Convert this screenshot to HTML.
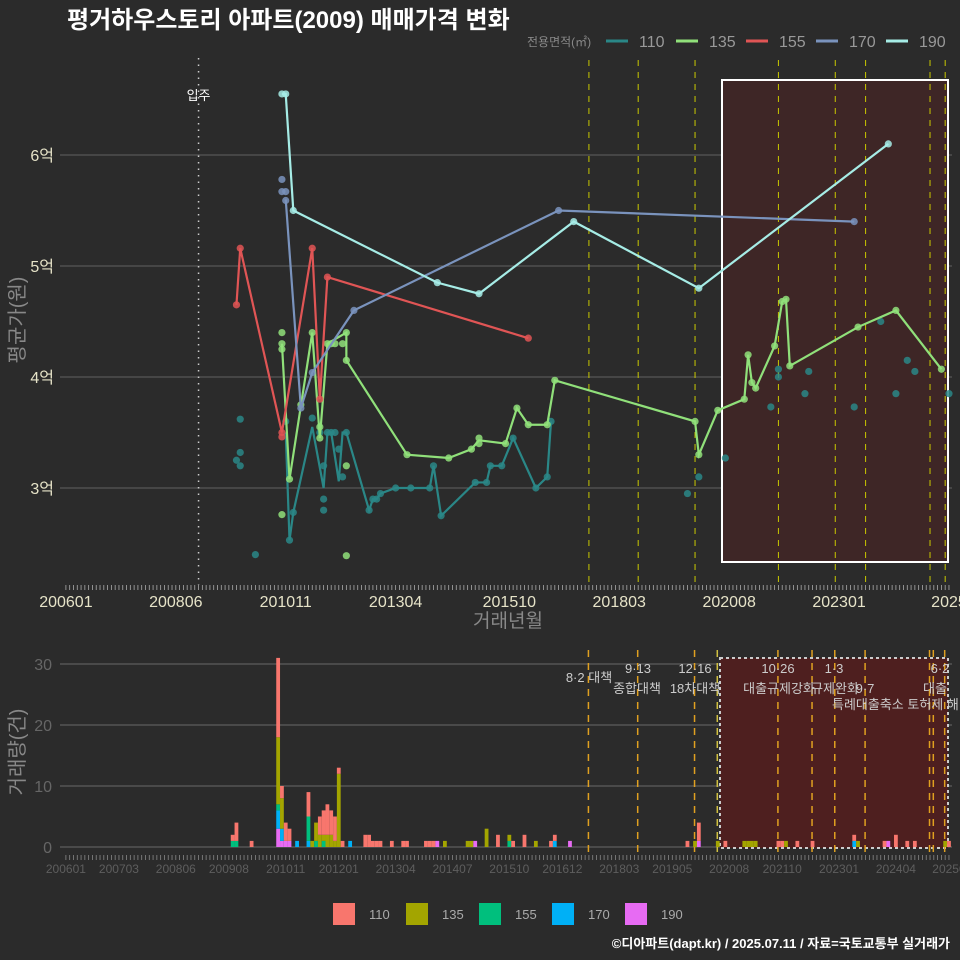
<!DOCTYPE html>
<html><head><meta charset="utf-8">
<style>
html,body{margin:0;padding:0;background:#2b2b2b;}
svg{display:block;font-family:"Liberation Sans","Noto Sans CJK KR",sans-serif;}
</style></head>
<body>
<svg id="chart" width="960" height="960" viewBox="0 0 960 960">
<rect x="0" y="0" width="960" height="960" fill="#2b2b2b"/>
<text x="67" y="28" fill="#ffffff" font-size="24" font-weight="bold">평거하우스토리 아파트(2009) 매매가격 변화</text>
<g id="legendTop"></g>
<g id="topPanel"></g>
<g id="bottomPanel"></g>
<text x="950" y="948" text-anchor="end" fill="#ffffff" font-size="13" font-weight="bold">©디아파트(dapt.kr) / 2025.07.11 / 자료=국토교통부 실거래가</text>
</svg>
<script>
// ===== data =====
const sizes = ['110','135','155','170','190'];
const lineColors = ['#2a8787','#90e07a','#e05555','#7a93bd','#a6ece6'];
const barColors = ['#f8766d','#a3a500','#00bf7d','#00b0f6','#e76bf3'];
const priceTicks = [3,4,5,6];
const priceTickLabels = ['3억','4억','5억','6억'];
const topXTicks = ['200601','200806','201011','201304','201510','201803','202008','202301','202506'];
const topXTickLabels = ['200601','200806','201011','201304','201510','201803','202008','202301','2025'];
const botXTicks = ['200601','200703','200806','200908','201011','201201','201304','201407','201510','201612','201803','201905','202008','202110','202301','202404','202506'];
const volTicks = [0,10,20,30];
const topPolicyDates = ['201707','201808','201911','202109','202212','202308','202501','202505'];
const policyDates = ['201707','201808','201911','202005','202109','202206','202212','202308','202501','202502','202505'];

const pts110Dates = ['200910','200911','200911','200911','201003','201011','201012','201101','201106','201108','201109','201109','201109','201110','201111','201112','201201','201202','201203','201209','201210','201211','201212','201304','201308','201401','201402','201404','201501','201504','201505','201508','201511','201605','201608','201609','201909','201912','202007','202107','202109','202109','202204','202205','202305','202312','202404','202407','202409','202506'];
const pts110Prices = [3.25,3.32,3.62,3.2,2.4,3.6,2.53,2.78,3.63,3.5,3.2,2.9,2.8,3.5,3.5,3.5,3.35,3.1,3.5,2.8,2.9,2.9,2.95,3.0,3.0,3.0,3.2,2.75,3.05,3.05,3.2,3.2,3.45,3.0,3.1,3.6,2.95,3.1,3.27,3.73,4.07,4.0,3.85,4.05,3.73,4.5,3.85,4.15,4.05,3.85];
const line110Dates = ['201011','201012','201101','201106','201109','201110','201111','201201','201202','201203','201209','201210','201211','201212','201304','201308','201401','201402','201404','201501','201504','201505','201508','201511','201605','201608','201609'];
const line110Prices = [3.5,2.53,2.78,3.55,3.0,3.5,3.5,3.06,3.5,3.5,2.8,2.9,2.9,2.95,3.0,3.0,3.0,3.2,2.75,3.05,3.05,3.2,3.2,3.45,3.0,3.1,3.6];

const pts135Dates = ['201010','201010','201010','201010','201012','201103','201106','201108','201108','201110','201111','201112','201202','201203','201203','201203','201203','201307','201406','201412','201502','201502','201509','201512','201603','201608','201610','201911','201912','202005','202012','202101','202102','202103','202108','202110','202111','202112','202306','202404','202504'];
const pts135Prices = [2.76,4.4,4.3,4.25,3.08,3.75,4.4,3.55,3.45,4.3,4.3,4.3,4.3,4.4,4.15,3.2,2.39,3.3,3.27,3.35,3.45,3.4,3.4,3.72,3.57,3.57,3.97,3.6,3.3,3.7,3.8,4.2,3.95,3.9,4.28,4.68,4.7,4.1,4.45,4.6,4.07];
const line135Dates = ['201010','201012','201106','201108','201110','201203','201203','201307','201406','201412','201502','201509','201512','201603','201608','201610','201911','201912','202005','202012','202101','202102','202103','202108','202110','202111','202112','202306','202404','202504'];
const line135Prices = [4.3,3.08,4.4,3.45,4.3,4.4,4.15,3.3,3.27,3.35,3.43,3.4,3.72,3.57,3.57,3.97,3.6,3.3,3.7,3.8,4.2,3.95,3.9,4.28,4.68,4.7,4.1,4.45,4.6,4.07];

const pts155Dates = ['200910','200911','201010','201010','201106','201108','201110','201603'];
const pts155Prices = [4.65,5.16,3.46,3.5,5.16,3.8,4.9,4.35];
const line155Dates = ['200910','200911','201010','201106','201108','201110','201603'];
const line155Prices = [4.65,5.16,3.5,5.16,3.8,4.9,4.35];

const pts170Dates = ['201010','201010','201011','201011','201103','201106','201205','201611','202305'];
const pts170Prices = [5.78,5.67,5.67,5.59,3.72,4.04,4.6,5.5,5.4];
const line170Dates = ['201011','201103','201106','201205','201611','202305'];
const line170Prices = [5.6,3.72,4.04,4.6,5.5,5.4];

const pts190Dates = ['201010','201011','201101','201403','201502','201703','201912','202402'];
const pts190Prices = [6.55,6.55,5.5,4.85,4.75,5.4,4.8,6.1];
const line190Dates = ['201010','201011','201101','201403','201502','201703','201912','202402'];
const line190Prices = [6.55,6.55,5.5,4.85,4.75,5.4,4.8,6.1];

const volDates = ['200909','200910','201002','201009','201010','201011','201012','201102','201105','201106','201107','201108','201109','201110','201111','201112','201201','201202','201204','201208','201209','201210','201211','201212','201303','201306','201307','201312','201401','201402','201403','201405','201411','201412','201501','201504','201507','201508','201510','201511','201602','201605','201608','201609','201610','201702','201909','201911','201912','202005','202007','202012','202101','202102','202103','202109','202110','202111','202202','202206','202305','202306','202401','202402','202404','202407','202409','202505','202506'];
const vol110 = [1,3,1,13,2,3,2,0,4,0,0,3,4,5,4,4,1,1,0,2,2,1,1,1,1,1,1,1,1,1,0,0,0,0,0,0,2,0,0,1,2,0,0,1,1,0,1,0,3,0,1,0,0,0,0,1,1,0,1,1,1,0,1,0,2,1,1,0,1];
const vol135 = [0,0,0,11,5,0,0,0,0,1,3,2,1,2,2,1,12,0,0,0,0,0,0,0,0,0,0,0,0,0,0,1,1,1,0,3,0,0,1,0,0,1,0,0,0,0,0,1,0,1,0,1,1,1,1,0,0,1,0,0,0,1,0,0,0,0,0,1,0];
const vol155 = [1,1,0,1,0,0,0,0,4,0,1,0,1,0,0,0,0,0,0,0,0,0,0,0,0,0,0,0,0,0,0,0,0,0,0,0,0,0,1,0,0,0,0,0,0,0,0,0,0,0,0,0,0,0,0,0,0,0,0,0,0,0,0,0,0,0,0,0,0];
const vol170 = [0,0,0,3,2,0,0,1,1,0,0,0,0,0,0,0,0,0,1,0,0,0,0,0,0,0,0,0,0,0,0,0,0,0,0,0,0,0,0,0,0,0,0,0,1,0,0,0,0,0,0,0,0,0,0,0,0,0,0,0,1,0,0,0,0,0,0,0,0];
const vol190 = [0,0,0,3,1,1,1,0,0,0,0,0,0,0,0,0,0,0,0,0,0,0,0,0,0,0,0,0,0,0,1,0,0,0,1,0,0,0,0,0,0,0,0,0,0,1,0,0,1,0,0,0,0,0,0,0,0,0,0,0,0,0,0,1,0,0,0,0,0];

// ===== scales =====
const NS='http://www.w3.org/2000/svg';
function mIndex(d){return (parseInt(d.slice(0,4))-2006)*12+parseInt(d.slice(4,6))-1;}
function xT(d){return 64+mIndex(d)*3.79+1.9;}
function yP(v){return 155+(6-v)*111;}
function yV(v){return 847-v*6.1;}
function mk(tag,attrs,parent){const e=document.createElementNS(NS,tag);for(const k in attrs)e.setAttribute(k,attrs[k]);parent.appendChild(e);return e;}
const topG=document.getElementById('topPanel');
const botG=document.getElementById('bottomPanel');
const lg=document.getElementById('legendTop');

// ===== top legend =====
const lgTitle=mk('text',{x:527,y:46,fill:'#888','font-size':12},lg);
lgTitle.textContent='전용면적(㎡)';


sizes.forEach((s,i)=>{const x0=606+i*70;
 const l=mk('line',{x1:x0,x2:x0+22,y1:41,y2:41,stroke:lineColors[i],'stroke-width':3},lg);
 
 
 const tx=mk('text',{x:x0+33,y:47,fill:'#999','font-size':16},lg);tx.textContent=s;
 
 
});

// ===== top panel =====
priceTicks.forEach((v,i)=>{
 const g=mk('line',{x1:60,x2:952,y1:yP(v),y2:yP(v),stroke:'#606060','stroke-width':1},topG);
 
 
 const tl=mk('text',{x:54,y:yP(v)+6,'text-anchor':'end',fill:'#e6e3c8','font-size':16},topG);tl.textContent=priceTickLabels[i];
 
 
});
const rr=mk('rect',{x:722,y:80,width:226,height:482,fill:'#3e2626',stroke:'#ffffff','stroke-width':2},topG);


topPolicyDates.forEach(d=>{
 const l=mk('line',{x1:xT(d),x2:xT(d),y1:60,y2:585,stroke:'#c8c800','stroke-width':1,'stroke-dasharray':'6,6'},topG);
 
 
});
const mv=mk('line',{x1:xT('200812'),x2:xT('200812'),y1:58,y2:585,stroke:'#cccccc','stroke-width':1.5,'stroke-dasharray':'1.5,5'},topG);


const mvt=mk('text',{x:xT('200812'),y:100,'text-anchor':'middle',fill:'#ffffff','font-size':13},topG);mvt.textContent='입주';


for(let m=0;m<=233;m++){const x=64+m*3.79+1.9;
 const tk=mk('line',{x1:x,x2:x,y1:585,y2:590,stroke:'#aaa','stroke-width':0.8},topG);
 
 
 const tk2=mk('line',{x1:x,x2:x,y1:855,y2:860,stroke:'#888','stroke-width':0.8},botG);
 
 
}
topXTicks.forEach((d,i)=>{
 const tx=mk('text',{x:xT(d),y:607,'text-anchor':'middle',fill:'#e6e3c8','font-size':16},topG);tx.textContent=topXTickLabels[i];
 
 
});
const xt=mk('text',{x:508,y:627,'text-anchor':'middle',fill:'#888','font-size':19},topG);xt.textContent='거래년월';


const yt=mk('text',{x:0,y:0,'text-anchor':'middle',fill:'#888','font-size':20,transform:'translate(24,320) rotate(-90)'},topG);yt.textContent='평균가(원)';



const lineSets=[[line110Dates,line110Prices],[line135Dates,line135Prices],[line155Dates,line155Prices],[line170Dates,line170Prices],[line190Dates,line190Prices]];
const ptSets=[[pts110Dates,pts110Prices],[pts135Dates,pts135Prices],[pts155Dates,pts155Prices],[pts170Dates,pts170Prices],[pts190Dates,pts190Prices]];
sizes.forEach((s,i)=>{
 const ld=lineSets[i][0],lp=lineSets[i][1];
 const p=mk('polyline',{points:ld.map((d,j)=>xT(d)+','+yP(lp[j])).join(' '),fill:'none',stroke:lineColors[i],'stroke-width':2.2},topG);
 
 
 const pd=ptSets[i][0],pp=ptSets[i][1];
 pd.forEach((d,j)=>{
  const c=mk('circle',{cx:xT(d),cy:yP(pp[j]),r:3.6,fill:lineColors[i],'fill-opacity':0.85},topG);
  
  
 });
});

// ===== bottom panel =====
volTicks.forEach(v=>{
 const g=mk('line',{x1:60,x2:952,y1:yV(v),y2:yV(v),stroke:'#6a6a6a','stroke-width':1},botG);
 
 
 const tl=mk('text',{x:52,y:yV(v)+6,'text-anchor':'end',fill:'#666','font-size':16},botG);tl.textContent=v;
 
 
});
const br=mk('rect',{x:720,y:658,width:228,height:190,fill:'#4e1f1f',stroke:'#cccccc','stroke-width':2,'stroke-dasharray':'3,3'},botG);


policyDates.forEach((d,i)=>{
 const l=mk('line',{x1:xT(d)-0.5,x2:xT(d)-0.5,y1:650,y2:858,stroke:i==3?'#d0c040':'#e0a020','stroke-width':1.5,'stroke-dasharray':'7,6'},botG);
 
 
});
const vols=[vol110,vol135,vol155,vol170,vol190];
volDates.forEach((d,j)=>{
 let base=0;
 for(let k=4;k>=0;k--){const v=vols[k][j];if(!v)continue;
  const r=mk('rect',{x:xT(d)-1.9,y:yV(base+v),width:3.79,height:v*6.1,fill:barColors[k]},botG);
  
  
  base+=v;}
});
botXTicks.forEach(d=>{
 const tx=mk('text',{x:xT(d),y:873,'text-anchor':'middle',fill:'#5e5e5e','font-size':12},botG);tx.textContent=d==='202506'?'20250':d;
 
 
});
const vt=mk('text',{x:0,y:0,'text-anchor':'middle',fill:'#888','font-size':20,transform:'translate(24,752) rotate(-90)'},botG);vt.textContent='거래량(건)';


const notes=[[589,682,'8·2 대책','middle'],[638,673,'9·13','middle'],[637,693,'종합대책','middle'],[695,673,'12·16','middle'],[695,693,'18차대책','middle'],[778,673,'10·26','middle'],[779,693,'대출규제강화','middle'],[834,673,'1·3','middle'],[835,693,'규제완화','middle'],[865,693,'9·7','middle'],[832,709,'특례대출축소 토허제 해','start'],[940,673,'6·2','middle'],[923,693,'대출','start']];
notes.forEach(n=>{
 const tx=mk('text',{x:n[0],y:n[1],'text-anchor':n[3],fill:'#cccccc','font-size':13},botG);tx.textContent=n[2];
 
 
});
sizes.forEach((s,i)=>{const x0=333+i*73;
 const r=mk('rect',{x:x0,y:903,width:22,height:22,fill:barColors[i]},botG);
 
 
 const tx=mk('text',{x:x0+36,y:919,fill:'#aaa','font-size':13},botG);tx.textContent=s;
 
 
});
</script>
</body></html>
